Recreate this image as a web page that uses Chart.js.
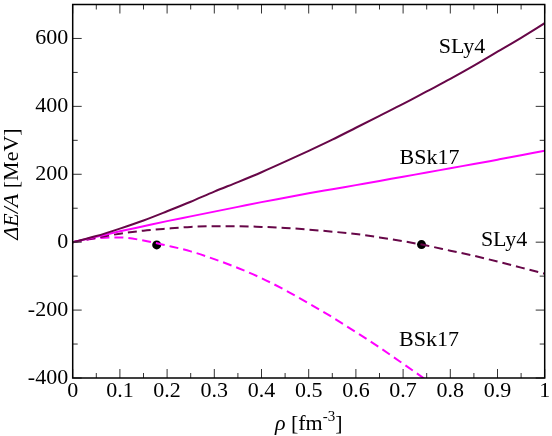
<!DOCTYPE html>
<html>
<head>
<meta charset="utf-8">
<script src="https://cdn.jsdelivr.net/npm/chart.js@4"></script>
<style>
html,body{margin:0;padding:0;background:#fff;}
#wrap{width:552px;height:436px;}
</style>
</head>
<body>
<div id="wrap"><canvas id="c" width="552" height="436"></canvas></div>
<script>
// ---- data ----
const rho = [0,0.05,0.1,0.15,0.2,0.25,0.3,0.35,0.4,0.45,0.5,0.55,0.6,0.65,0.7,0.75,0.8,0.85,0.9,0.95,1.0];
const sly4Solid  = [0,18,40,64,91,119,149,177,206,237,269,302,337,372,407,444,481,520,561,602,645];
const bsk17Solid = [0,16,32,47,62,76,90,104,118,131,144,156,168,180,193,205,218,230,243,256,269];
const sly4Dashed = [0,13,25,34,40,45,47,47,45,42,37,31,24,14,3,-10,-25,-40,-57,-75,-93];
const rhoB = [0,0.05,0.1,0.15,0.2,0.25,0.3,0.35,0.4,0.45,0.5,0.55,0.6,0.65,0.7,0.75,0.8];
const bsk17Dashed = [0,11,14,5,-10,-27,-50,-76,-106,-141,-180,-221,-265,-310,-358,-407,-458];
const dotsX = [0.178,0.739];
const dotsY = [-8,-7];
const xTicks = [0,0.1,0.2,0.3,0.4,0.5,0.6,0.7,0.8,0.9,1];
const xTickLabels = ['0','0.1','0.2','0.3','0.4','0.5','0.6','0.7','0.8','0.9','1'];
const xMinor = [0.05,0.15,0.25,0.35,0.45,0.55,0.65,0.75,0.85,0.95];
const yTicks = [-400,-200,0,200,400,600];
const yTickLabels = ['-400','-200','0','200','400','600'];
const yMinor = [-300,-100,100,300,500];
const curveLabels = [
  {text:'SLy4', x:0.825, y:574},
  {text:'BSk17', x:0.756, y:248},
  {text:'SLy4', x:0.914, y:7},
  {text:'BSk17', x:0.755, y:-289}
];

const MAROON = '#670748';
const MAGENTA = '#ff00ff';
const SERIF = '"Liberation Serif","Times New Roman",serif';

const pts = (xs, ys) => xs.map((x,i)=>({x:x, y:ys[i]}));

const framePlugin = {
  id:'frame',
  afterDraw(chart){
    const {ctx, chartArea:a, scales:{x, y}} = chart;
    ctx.save();
    // ticks
    ctx.strokeStyle = '#333';
    ctx.lineWidth = 1;
    const major = 9, minor = 5;
    ctx.beginPath();
    xTicks.forEach(v=>{const p=x.getPixelForValue(v);
      ctx.moveTo(p,a.bottom);ctx.lineTo(p,a.bottom-major);
      ctx.moveTo(p,a.top);ctx.lineTo(p,a.top+major);});
    xMinor.forEach(v=>{const p=x.getPixelForValue(v);
      ctx.moveTo(p,a.bottom);ctx.lineTo(p,a.bottom-minor);
      ctx.moveTo(p,a.top);ctx.lineTo(p,a.top+minor);});
    yTicks.forEach(v=>{const p=y.getPixelForValue(v);
      ctx.moveTo(a.left,p);ctx.lineTo(a.left+major,p);
      ctx.moveTo(a.right,p);ctx.lineTo(a.right-major,p);});
    yMinor.forEach(v=>{const p=y.getPixelForValue(v);
      ctx.moveTo(a.left,p);ctx.lineTo(a.left+minor,p);
      ctx.moveTo(a.right,p);ctx.lineTo(a.right-minor,p);});
    ctx.stroke();
    // frame
    ctx.strokeStyle = '#000';
    ctx.lineWidth = 1.5;
    ctx.strokeRect(a.left, a.top, a.right-a.left, a.bottom-a.top);
    // curve labels
    ctx.fillStyle = '#000';
    ctx.font = '22px ' + SERIF;
    ctx.textAlign = 'center';
    ctx.textBaseline = 'middle';
    curveLabels.forEach(l=>{
      ctx.fillText(l.text, x.getPixelForValue(l.x), y.getPixelForValue(l.y));
    });
    // y title
    ctx.save();
    ctx.translate(18, 184);
    ctx.rotate(-Math.PI/2);
    ctx.textBaseline = 'alphabetic';
    ctx.textAlign = 'left';
    const it = 'italic 22px ' + SERIF, nm = '22px ' + SERIF;
    const parts = [['ΔE/A', it], [' [MeV]', nm]];
    let tw = 0;
    parts.forEach(p=>{ctx.font=p[1]; tw+=ctx.measureText(p[0]).width;});
    let cx = -tw/2;
    parts.forEach(p=>{ctx.font=p[1]; ctx.fillText(p[0], cx, 0); cx+=ctx.measureText(p[0]).width;});
    ctx.restore();
    // x title
    const xparts = [['ρ', it, 0], [' [fm', nm, 0], ['-3', '15px '+SERIF, -9], [']', nm, 0]];
    tw = 0;
    xparts.forEach(p=>{ctx.font=p[1]; tw+=ctx.measureText(p[0]).width;});
    cx = (a.left+a.right)/2 - tw/2;
    ctx.textAlign = 'left';
    ctx.textBaseline = 'alphabetic';
    xparts.forEach(p=>{ctx.font=p[1]; ctx.fillText(p[0], cx, 430 + p[2]); cx+=ctx.measureText(p[0]).width;});
    ctx.restore();
  }
};

new Chart(document.getElementById('c'), {
  type:'line',
  data:{
    datasets:[
      {data:pts(rho, sly4Solid), borderColor:MAROON, borderWidth:2, pointRadius:0, cubicInterpolationMode:'monotone', fill:false},
      {data:pts(rho, bsk17Solid), borderColor:MAGENTA, borderWidth:2, pointRadius:0, cubicInterpolationMode:'monotone', fill:false},
      {data:pts(rho, sly4Dashed), borderColor:MAROON, borderWidth:2, borderDash:[9,5], pointRadius:0, cubicInterpolationMode:'monotone', fill:false},
      {data:pts(rhoB, bsk17Dashed), borderColor:MAGENTA, borderWidth:2, borderDash:[9,5], pointRadius:0, cubicInterpolationMode:'monotone', fill:false},
      {data:pts(dotsX, dotsY), showLine:false, pointRadius:4.5, pointBackgroundColor:'#000', pointBorderColor:'#000', pointBorderWidth:0}
    ]
  },
  options:{
    responsive:false,
    animation:false,
    devicePixelRatio:1,
    layout:{padding:{left:0, right:7.3, top:1.7, bottom:0}},
    plugins:{legend:{display:false}, tooltip:{enabled:false}},
    scales:{
      x:{
        type:'linear', min:0, max:1,
        grid:{display:false, drawTicks:false},
        border:{display:false},
        afterBuildTicks(s){ s.ticks = xTicks.map(v=>({value:v})); },
        afterFit(s){ s.height = 58; s.paddingLeft = 0; s.paddingRight = 0; },
        ticks:{autoSkip:false, maxRotation:0, padding:0, color:'#000',
          font:{family:SERIF, size:22},
          callback(v){ const i = xTicks.indexOf(v); return i>=0 ? xTickLabels[i] : ''; }}
      },
      y:{
        type:'linear', min:-400, max:700,
        grid:{display:false, drawTicks:false},
        border:{display:false},
        afterBuildTicks(s){ s.ticks = yTicks.map(v=>({value:v})); },
        afterFit(s){ s.width = 72.7; s.paddingTop = 0; s.paddingBottom = 0; },
        ticks:{autoSkip:false, padding:4.5, color:'#000',
          font:{family:SERIF, size:22},
          callback(v){ const i = yTicks.indexOf(v); return i>=0 ? yTickLabels[i] : ''; }}
      }
    }
  },
  plugins:[framePlugin]
});
</script>
</body>
</html>
